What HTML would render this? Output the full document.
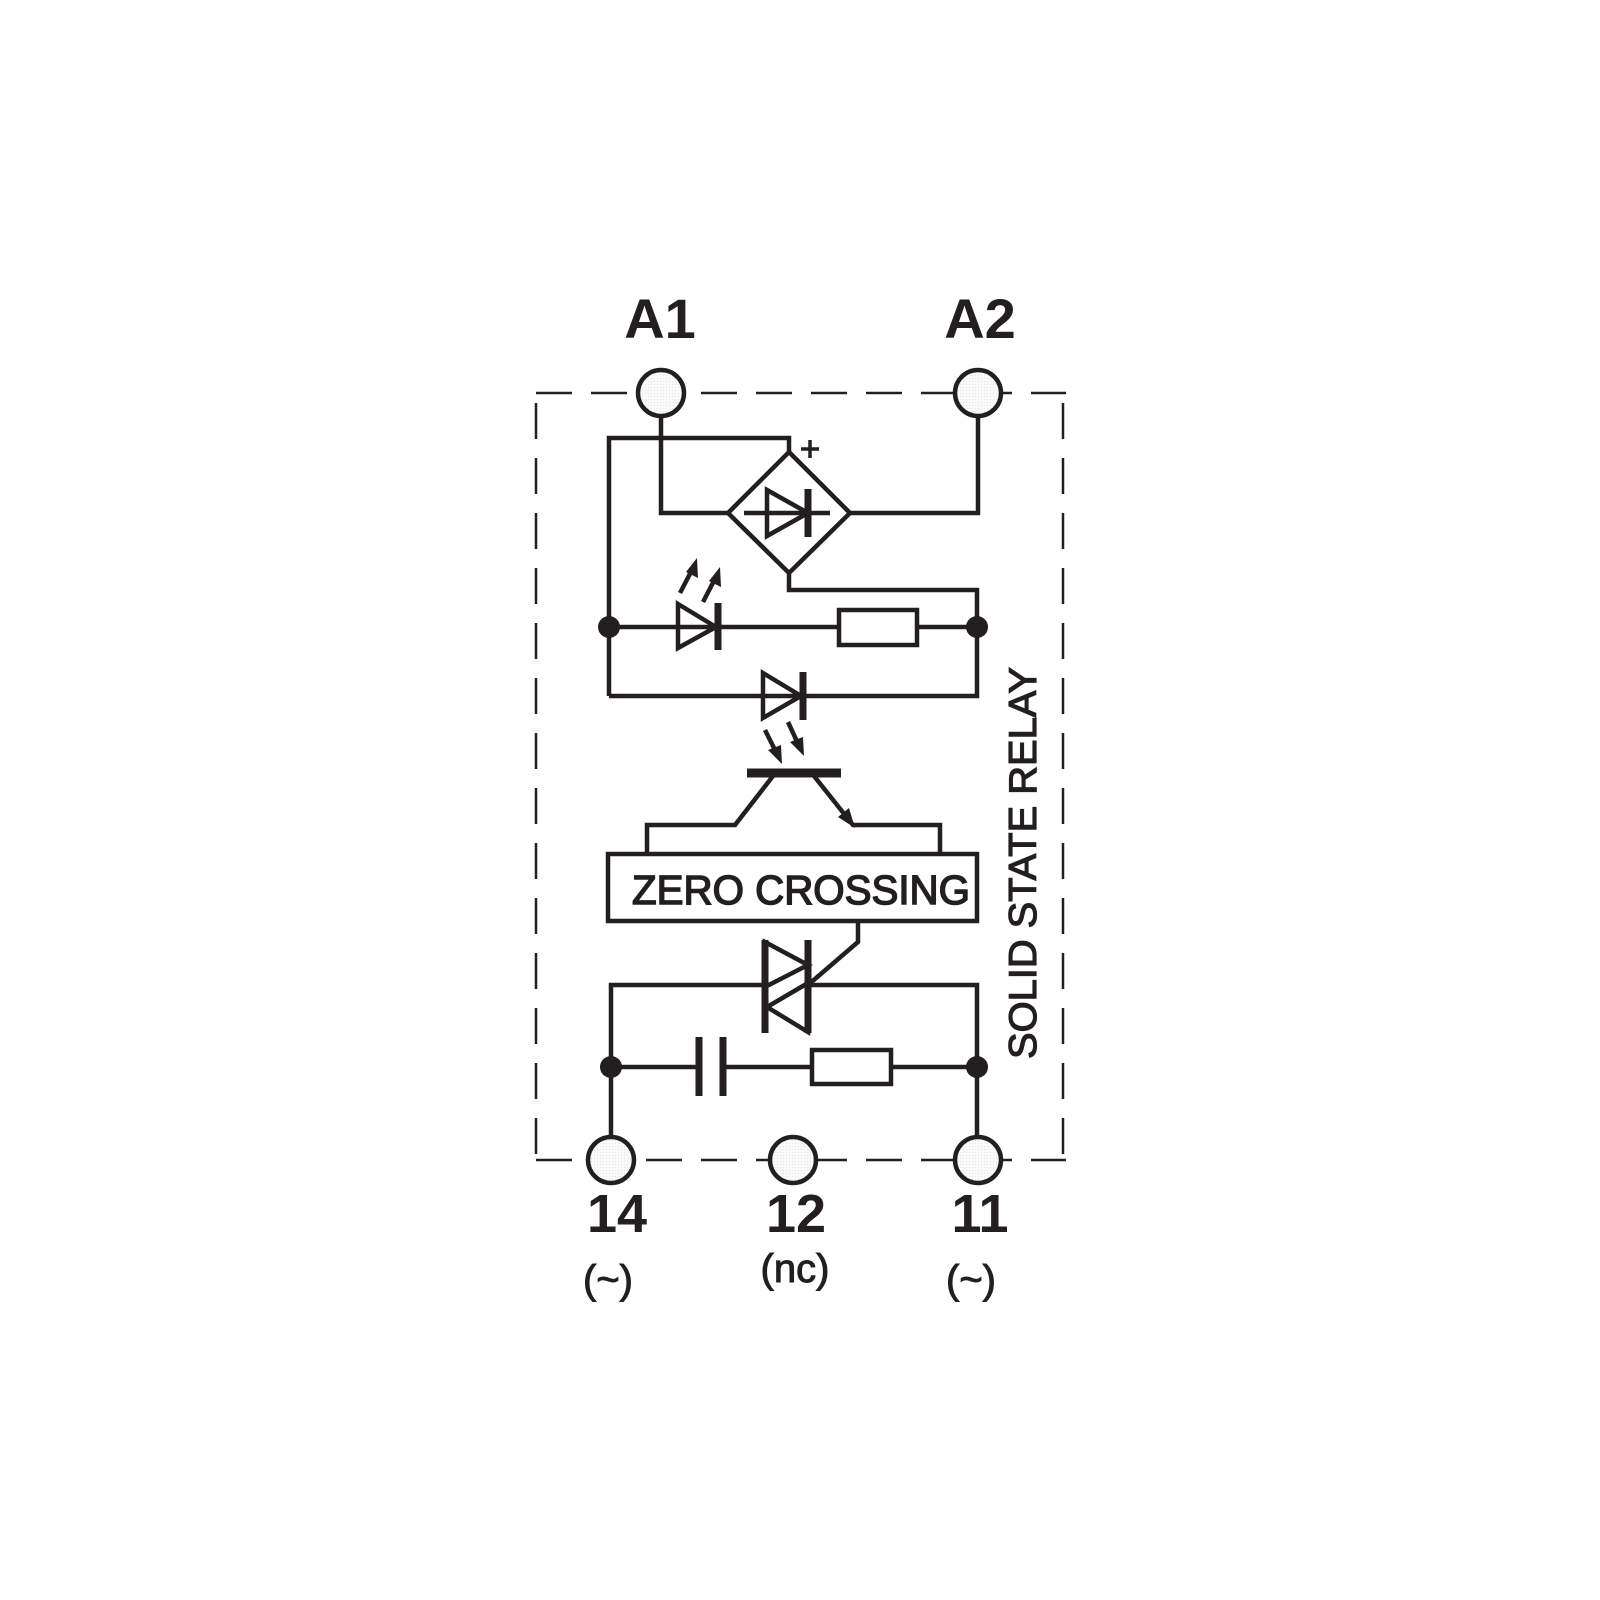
<!DOCTYPE html>
<html><head><meta charset="utf-8"><style>html,body{margin:0;padding:0;background:#fff}svg{display:block}</style></head>
<body>
<svg width="1600" height="1600" viewBox="0 0 1600 1600" xmlns="http://www.w3.org/2000/svg">
<defs><pattern id="dt" width="3" height="3" patternUnits="userSpaceOnUse"><rect width="3" height="3" fill="#fafafa"/><rect width="1" height="1" fill="#e4e4e4"/></pattern></defs>
<rect width="1600" height="1600" fill="#fff"/>
<g fill="none" stroke="#231f20" stroke-width="2.5" stroke-dasharray="36 19">
<path d="M536 393 H1066"/>
<path d="M536 1160 H1066"/>
<path d="M536 403 V1160"/>
<path d="M1063 403 V1160"/>
</g>
<g fill="none" stroke="#231f20" stroke-width="4.5" stroke-linejoin="miter">
<path d="M661 416 V513 H728"/>
<path d="M978 416 V513 H850"/>
<path d="M609 696 V438 H789 V452"/>
<path d="M789 452 L850 513 L789 573 L728 513 Z"/>
<path d="M789 573 V590 H977 V696 H609"/>
<path d="M744 513 H830"/>
<path d="M767 490 L808 513 L767 536 Z"/>
<path d="M609 627 H839 M917 627 H977"/>
<rect x="839" y="610" width="78" height="35"/>
<path d="M678 604 L716 627 L678 648 Z"/>
<path d="M763 673 L801 696 L763 718 Z"/>
<path d="M773 776 L735 825 H647 V854"/>
<path d="M814 776 L853 825 H940 V854"/>
<rect x="608" y="854" width="369" height="67"/>
<path d="M858 921 V942 L808 985"/>
<path d="M611 1137 V985 H765 M808 985 H977 V1137"/>
<path d="M765 942 L808 965 L765 987 Z"/>
<path d="M808 983 L767 1007 L808 1032 Z"/>
<path d="M611 1067 H699 M723 1067 H812 M891 1067 H977"/>
<rect x="812" y="1050" width="79" height="34"/>
</g>
<g stroke="#231f20" fill="none">
<path d="M808 489 V537" stroke-width="7"/>
<path d="M718 603 V650" stroke-width="7"/>
<path d="M803 672 V720" stroke-width="7"/>
<path d="M765 940 V1033" stroke-width="7"/>
<path d="M808 940 V1033" stroke-width="7"/>
<path d="M699 1037 V1096 M723 1037 V1096" stroke-width="7"/>
<path d="M747 773 H841" stroke-width="9"/>
<path d="M810 440 V458 M801 449 H819" stroke-width="3.5"/>
<path d="M680 593 L694 566 M703 602 L717 575 M765 730 L778 756 M788 722 L800 748" stroke-width="4.5"/>
</g>
<g fill="#231f20">
<polygon points="697,558 698,578 686,572"/>
<polygon points="720,567 721,587 709,581"/>
<polygon points="782,764 768,750 781,745"/>
<polygon points="804,756 790,742 803,737"/>
<polygon points="855,828 838,817 849,808"/>
<circle cx="609" cy="627" r="11"/>
<circle cx="977" cy="627" r="11"/>
<circle cx="611" cy="1067" r="11"/>
<circle cx="977" cy="1067" r="11"/>
</g>
<g stroke="#231f20" stroke-width="4.5" fill="url(#dt)">
<circle cx="661" cy="393" r="23"/>
<circle cx="978" cy="393" r="23"/>
<circle cx="611" cy="1160" r="23"/>
<circle cx="793" cy="1160" r="23"/>
<circle cx="978" cy="1160" r="23"/>
</g>
<g font-family="Liberation Sans, sans-serif" fill="#231f20" text-anchor="middle">
<text x="660" y="338" font-size="56" font-weight="bold">A1</text>
<text x="980" y="338" font-size="56" font-weight="bold">A2</text>
<text x="617" y="1232" font-size="54" font-weight="bold">14</text>
<text x="796" y="1232" font-size="54" font-weight="bold">12</text>
<text x="980" y="1232" font-size="54" font-weight="bold">11</text>
<text x="608" y="1293" font-size="40" stroke="#231f20" stroke-width="1">(~)</text>
<text x="795" y="1282" font-size="40" stroke="#231f20" stroke-width="1">(nc)</text>
<text x="971" y="1293" font-size="40" stroke="#231f20" stroke-width="1">(~)</text>
<text x="801" y="904" font-size="41" stroke="#231f20" stroke-width="1.5" textLength="338" lengthAdjust="spacingAndGlyphs">ZERO CROSSING</text>
<text transform="translate(1036,863) rotate(-90)" font-size="39" stroke="#231f20" stroke-width="1.2" textLength="392" lengthAdjust="spacingAndGlyphs">SOLID STATE RELAY</text>
</g>
<rect x="0" y="1305" width="1600" height="20" fill="#fff"/>
</svg>
</body></html>
